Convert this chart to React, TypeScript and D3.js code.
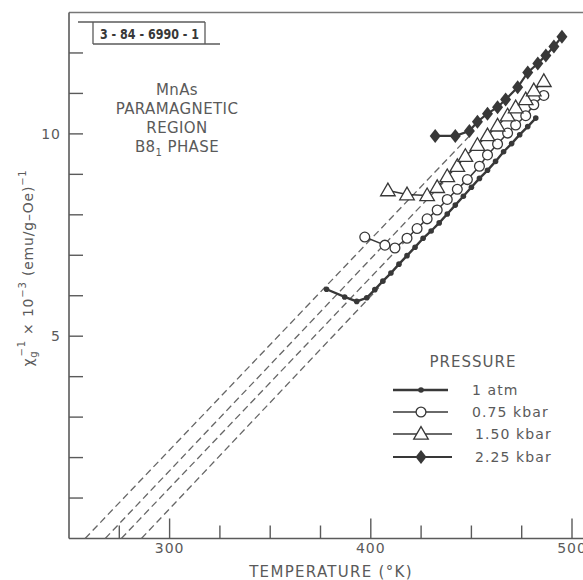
import React from 'react';
import * as d3 from 'd3';

const W = 583;
const H = 580;

// temperature (K) and inverse susceptibility (x 10^3) per pressure
const atmT = [378, 387, 393, 398, 402, 406, 410, 414, 418, 422, 426, 430, 434, 438, 442, 446, 450, 454, 458, 462, 466, 470, 474, 478, 482];
const atmV = [6.16, 5.97, 5.86, 5.95, 6.15, 6.36, 6.56, 6.78, 6.99, 7.2, 7.42, 7.6, 7.8, 8.02, 8.24, 8.46, 8.68, 8.9, 9.1, 9.32, 9.56, 9.76, 9.98, 10.18, 10.39];

const p075T = [397, 407, 412, 418, 423, 428, 433, 438, 443, 448, 454, 458, 463, 468, 472, 477, 481, 486];
const p075V = [7.45, 7.25, 7.18, 7.42, 7.66, 7.9, 8.12, 8.38, 8.63, 8.87, 9.2, 9.48, 9.75, 10.02, 10.22, 10.45, 10.72, 10.95];

const p150T = [408.5, 418, 428, 433, 438, 443, 447, 453, 458, 463, 468, 472, 477, 481, 486];
const p150V = [8.6, 8.5, 8.48, 8.68, 8.95, 9.2, 9.45, 9.72, 9.96, 10.2, 10.45, 10.65, 10.85, 11.07, 11.3];

const p225T = [432, 442, 449, 453, 458, 463, 467, 473, 478, 483, 487, 491, 495];
const p225V = [9.95, 9.95, 10.07, 10.3, 10.5, 10.66, 10.85, 11.15, 11.52, 11.74, 11.94, 12.16, 12.4];

// extrapolated straight lines (dashed): start and end temperature / value
const dashStartT = [286, 276, 268, 258];
const dashEndT = [404, 420, 436, 450];
const dashEndV = [6.2, 7.5, 8.8, 10.0];

const legendLabels = ['1 atm', '0.75 kbar', '1.50 kbar', '2.25 kbar'];
const xTicks = [275, 300, 325, 350, 375, 400, 425, 450, 475, 500];
const xLabels = [300, 400, 500];
const yTicks = [1, 2, 3, 4, 5, 6, 7, 8, 9, 10, 11, 12];
const yLabels = [5, 10];
const noteLines = ['MnAs', 'PARAMAGNETIC', 'REGION'];

const FONT = '"DejaVu Sans", sans-serif';
const INK = '#5a5a5a';
const DARK = '#383838';

const xs = d3.scaleLinear().domain([250, 500]).range([69, 572]);
const ys = d3.scaleLinear().domain([0, 13]).range([538.5, 12.5]);

const line = d3.line<[number, number]>()
  .x(d => xs(d[0]))
  .y(d => ys(d[1]));

const zip = (t: number[], v: number[]) => t.map((d, i) => [d, v[i]] as [number, number]);

const triPath = d3.symbol().type(d3.symbolTriangle).size(92)() as string;
const diamondPath = 'M0,-7L5.5,0L0,7L-5.5,0Z';

function Marker({ kind, x, y }: { kind: number; x: number; y: number }) {
  if (kind === 0) return <circle cx={x} cy={y} r={2.8} fill={DARK} />;
  if (kind === 1) return <circle cx={x} cy={y} r={4.9} fill="#fff" stroke={DARK} strokeWidth={1.3} />;
  if (kind === 2) return <path d={triPath} transform={`translate(${x},${y + 1})`} fill="#fff" stroke={DARK} strokeWidth={1.3} />;
  return <path d={diamondPath} transform={`translate(${x},${y})`} fill={DARK} />;
}

export default function App() {
  const series = [zip(atmT, atmV), zip(p075T, p075V), zip(p150T, p150V), zip(p225T, p225V)];
  const widths = [2.4, 1.5, 1.5, 2.2];
  const left = xs(250);
  const bottom = ys(0);
  const legendY = [390, 412, 434, 457];

  return (
    <svg width={W} height={H} style={{ position: 'absolute', left: 0, top: 0, background: '#fff' }} fontFamily={FONT}>
      {/* frame */}
      <line x1={left} x2={W} y1={ys(13)} y2={ys(13)} stroke="#777" strokeWidth={1.4} />
      <line x1={left} x2={left} y1={ys(13)} y2={bottom} stroke={INK} strokeWidth={1.6} />
      <line x1={left} x2={W} y1={bottom} y2={bottom} stroke={INK} strokeWidth={1.6} />

      {yTicks.map(t => (
        <line key={'yt' + t} x1={left} x2={left + 14} y1={ys(t)} y2={ys(t)} stroke={INK} strokeWidth={1.4} />
      ))}
      {yLabels.map(t => (
        <text key={'yl' + t} x={left - 8} y={ys(t) + 5} textAnchor="end" fontSize={14} fill={INK} letterSpacing={1}>{t}</text>
      ))}
      {xTicks.map(t => (
        <line key={'xt' + t} x1={xs(t)} x2={xs(t)} y1={bottom} y2={bottom - (t % 100 === 0 ? 20 : 13)} stroke={INK} strokeWidth={1.4} />
      ))}
      {xLabels.map(t => (
        <text key={'xl' + t} x={xs(t)} y={553} textAnchor="middle" fontSize={14} fill={INK} letterSpacing={1}>{t}</text>
      ))}

      {/* axis titles */}
      <text x={331} y={577} textAnchor="middle" fontSize={15} fill={INK} letterSpacing={1.3}>TEMPERATURE (°K)</text>
      <text transform="translate(33,268) rotate(-90)" textAnchor="middle" fontSize={14} fill={INK} letterSpacing={0.8}>
        <tspan>χ</tspan>
        <tspan fontSize={10} dy={4}>g</tspan>
        <tspan fontSize={10} dx={-6} dy={-12}>−1</tspan>
        <tspan dy={8}>{' \u00d7 10'}</tspan>
        <tspan fontSize={10} dy={-7}>−3</tspan>
        <tspan dy={7}>{' (emu/g\u2013Oe)'}</tspan>
        <tspan fontSize={10} dy={-7}>−1</tspan>
      </text>

      {/* figure id box */}
      <line x1={78} x2={205} y1={22} y2={22} stroke={INK} strokeWidth={1.3} />
      <line x1={93} x2={220} y1={44} y2={44} stroke={INK} strokeWidth={1.3} />
      <line x1={93} x2={93} y1={22} y2={44} stroke={INK} strokeWidth={1.3} />
      <line x1={205} x2={205} y1={22} y2={44} stroke={INK} strokeWidth={1.3} />
      <text x={100} y={39} fontSize={14} fontWeight="bold" fill={DARK} textLength={99} lengthAdjust="spacingAndGlyphs"
        fontFamily='"DejaVu Sans Condensed", "Liberation Sans Narrow", sans-serif'>3 - 84 - 6990 - 1</text>

      {/* annotation */}
      {noteLines.map((s, i) => (
        <text key={s} x={177} y={95 + i * 19} textAnchor="middle" fontSize={15} fill={INK} letterSpacing={0.4}>{s}</text>
      ))}
      <text x={177} y={152} textAnchor="middle" fontSize={15} fill={INK} letterSpacing={0.4}>
        B8<tspan fontSize={10} dy={4}>1</tspan><tspan dy={-4}>{' PHASE'}</tspan>
      </text>

      {/* dashed extrapolations */}
      {dashStartT.map((t, i) => (
        <path key={'d' + i} d={line([[t, 0], [dashEndT[i], dashEndV[i]]]) as string}
          fill="none" stroke="#666" strokeWidth={1.3} strokeDasharray="7,4" />
      ))}

      {/* data */}
      {series.map((pts, k) => (
        <g key={'s' + k}>
          <path d={line(pts) as string} fill="none" stroke={DARK} strokeWidth={widths[k]} />
          {pts.map((p, i) => <Marker key={i} kind={k} x={xs(p[0])} y={ys(p[1])} />)}
        </g>
      ))}

      {/* legend */}
      <text x={473} y={367} textAnchor="middle" fontSize={15} fill={INK} letterSpacing={1}>PRESSURE</text>
      {legendLabels.map((s, k) => (
        <g key={s}>
          <line x1={393} x2={k < 2 ? 448 : 452} y1={legendY[k]} y2={legendY[k]} stroke={DARK} strokeWidth={widths[k]} />
          <Marker kind={k} x={421} y={legendY[k]} />
          <text x={k === 0 || k === 1 ? 472 : 475} y={legendY[k] + 5} fontSize={14} fill={INK} letterSpacing={1.1}>{s}</text>
        </g>
      ))}
    </svg>
  );
}
